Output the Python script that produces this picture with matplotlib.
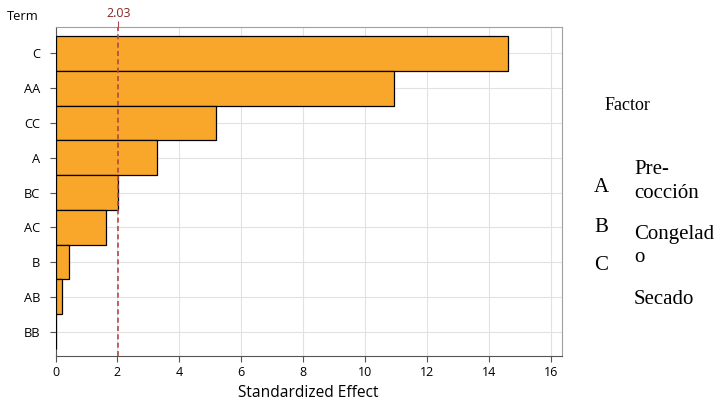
import matplotlib.pyplot as plt

terms = ["C", "AA", "CC", "A", "BC", "AC", "B", "AB", "BB"]
effects = [14.62, 10.93, 5.20, 3.27, 2.02, 1.63, 0.43, 0.21, 0.03]
ref_value = 2.03
factor_letters = ["A", "B", "C"]

plt.rcParams["font.family"] = ["Open Sans", "DejaVu Sans"]

fig = plt.figure(figsize=(7.19, 4.04), dpi=100)
ax = fig.add_axes([55.5 / 719, 48 / 404, 506 / 719, 329 / 404])

pos = list(range(len(terms)))
ax.barh(pos, effects, height=1.0, color="#F9A72B", edgecolor="black", lw=0.9, zorder=3)
ax.axvline(ref_value, color="#B04848", ls=(0, (3, 2)), lw=1.2, zorder=4)

ax.set_xlim(0, 16.35)
ax.set_ylim(8.7, -0.76)
ax.set_yticks(pos)
ax.set_yticklabels(terms, fontsize=9.3)
ax.set_xticks(range(0, 17, 2))
ax.tick_params(axis="x", labelsize=9, length=4, color="#555555")
ax.tick_params(axis="y", length=4, color="#555555", pad=7)
ax.grid(True, color="#e2e2e2", lw=0.8, zorder=0)
ax.set_axisbelow(True)
for s in ["top", "right"]:
    ax.spines[s].set_color("#a0a0a0")
for s in ["left", "bottom"]:
    ax.spines[s].set_color("#555555")
ax.set_xlabel("Standardized Effect", fontsize=11.2, labelpad=4)

# reference value label above the frame
ax2 = ax.secondary_xaxis("top")
ax2.set_xticks([ref_value])
ax2.set_xticklabels([f"{ref_value:.2f}"], color="#8B2525", fontsize=9)
ax2.tick_params(length=4, color="#B04848", pad=1)
ax2.spines["top"].set_visible(False)

fig.text(7 / 719, 1 - 16 / 404, "Term", fontsize=9.3, va="center")

serif = ["Liberation Serif", "DejaVu Serif"]
fig.text(605 / 719, 1 - 105 / 404, "Factor", fontsize=13, va="center", family=serif)
for letter, yy in zip(factor_letters, [187, 227, 266]):
    fig.text(594 / 719, 1 - yy / 404, letter, fontsize=15, va="center", family=serif)
for word, yy in zip(["Pre-", "cocción", "Congelad", "o", "Secado"], [170, 193, 235, 258, 299]):
    fig.text(634 / 719, 1 - yy / 404, word, fontsize=15, va="center", family=serif)

fig.savefig("out.png", dpi=100)
